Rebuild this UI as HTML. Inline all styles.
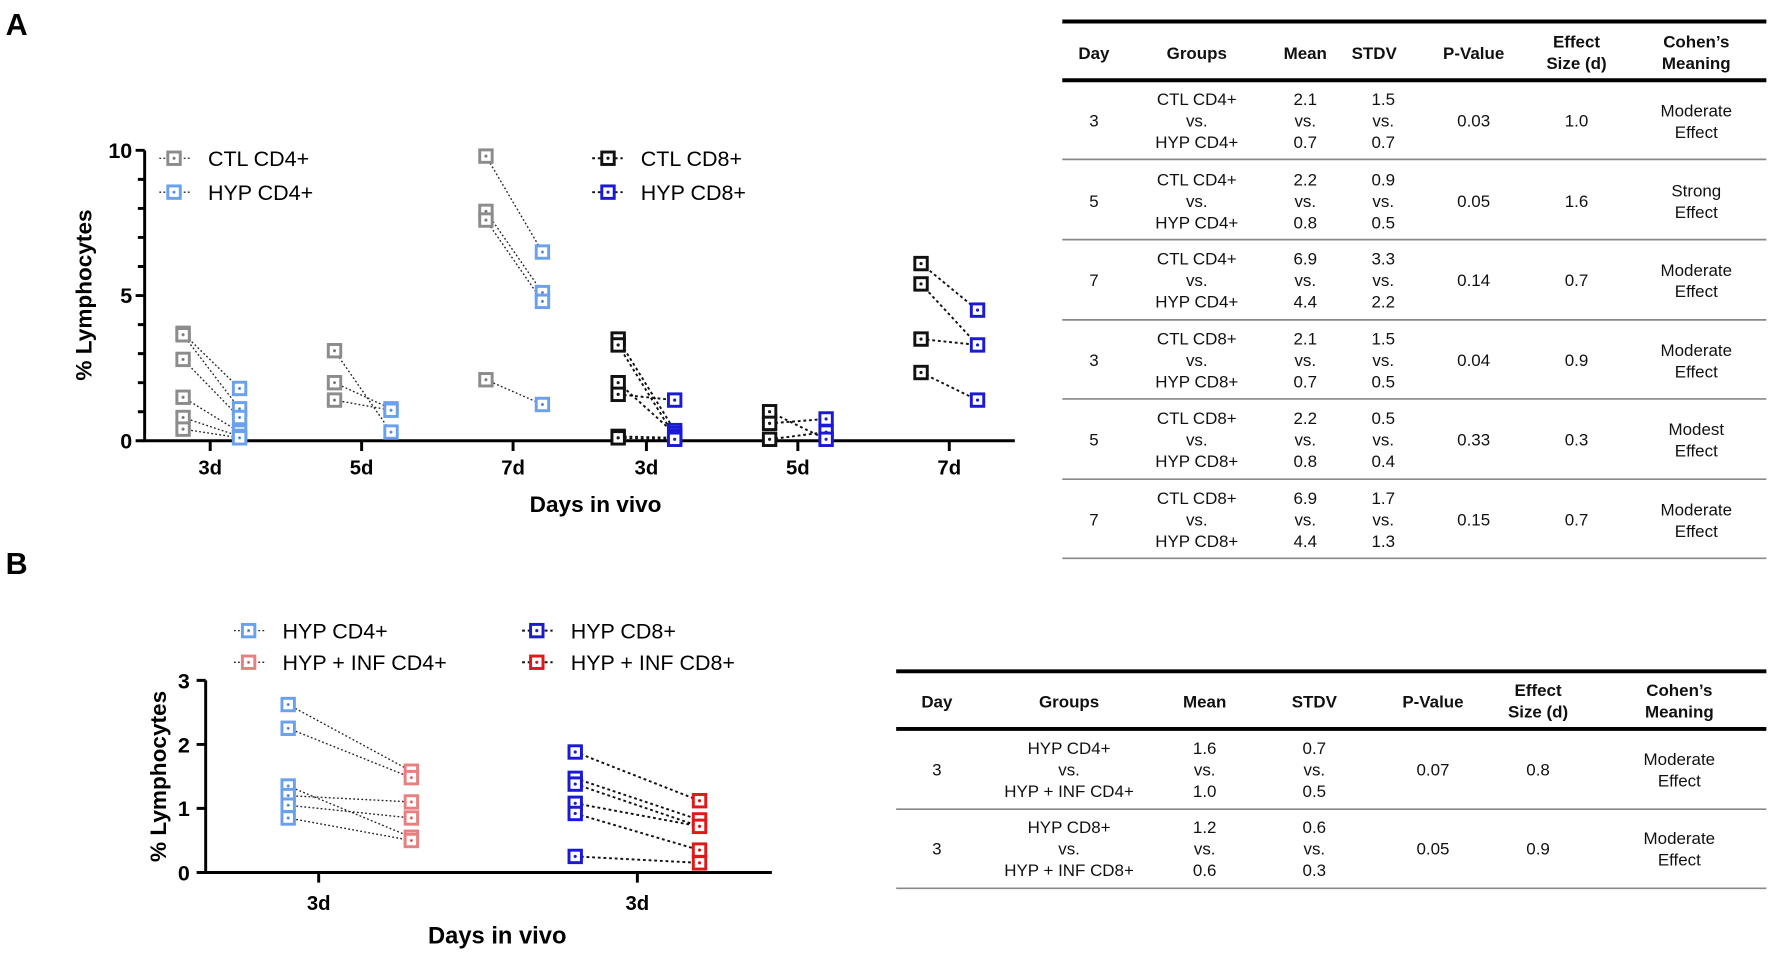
<!DOCTYPE html>
<html><head><meta charset="utf-8"><style>
html,body{margin:0;padding:0;background:#fff}
svg{display:block}
text{font-family:"Liberation Sans",Arial,sans-serif}
.b{font-weight:bold}
.t{font-size:15px;fill:#111}
.h{font-size:15px;font-weight:bold;fill:#111}
.ln{stroke:#222;stroke-width:1.2;stroke-dasharray:1.6 2;fill:none}
.ln8{stroke:#111;stroke-width:1.7;stroke-dasharray:2.5 2.5;fill:none}
</style></head><body>
<svg width="1772" height="955" viewBox="0 0 1568 845" xmlns="http://www.w3.org/2000/svg">
<defs>
<g id="sq"><rect x="-5.5" y="-5.5" width="11" height="11" fill="#fff" stroke-width="2.6"/><circle r="0.9" fill="#333"/></g>
</defs>
<rect width="1568" height="845" fill="#fff"/>
<text x="5" y="31" class="b" font-size="27">A</text>
<text x="5" y="508" class="b" font-size="27">B</text>

<!-- Plot A axes -->
<g stroke="#000" stroke-width="2.6" fill="none">
<path d="M128 133 V390 H898"/>
<path d="M120 133H128M122 158.7H128M122 184.4H128M122 210.1H128M122 235.8H128M120 261.5H128M122 287.2H128M122 312.9H128M122 338.6H128M122 364.3H128M120 390H128"/>
<path d="M186 390v9M320 390v9M454 390v9M572 390v9M706 390v9M840 390v9"/>
</g>
<g class="b" font-size="19" text-anchor="end"><text x="117" y="140">10</text><text x="117" y="268">5</text><text x="117" y="397">0</text></g>
<g class="b" font-size="18" text-anchor="middle"><text x="186" y="420">3d</text><text x="320" y="420">5d</text><text x="454" y="420">7d</text><text x="572" y="420">3d</text><text x="706" y="420">5d</text><text x="840" y="420">7d</text></g>
<text x="527" y="453" class="b" font-size="20" text-anchor="middle">Days in vivo</text>
<text transform="translate(81 261) rotate(-90)" class="b" font-size="20" text-anchor="middle">% Lymphocytes</text>

<!-- lines A -->
<g class="ln">
<path d="M162 294.9L212 343.7M162 296.2L212 361.7M162 318L212 369.4M162 351.5L212 382.3M162 369.4L212 386.1M162 379.7L212 387.4"/>
<path d="M296 310.3L346 382.3M296 338.6L346 361.7M296 354L346 363"/>
<path d="M430 138.1L480 223M430 187L480 258.9M430 194.7L480 266.6M430 336L480 357.9"/>
</g>
<g class="ln8">
<path d="M547 300L597 381M547 305.2L597 386.1M547 338.6L597 383.6M547 348.9L597 354M547 386.1L597 387.4M547 387.4L597 388.7"/>
<path d="M681 364.3L731 388.7M681 374.6L731 370.7M681 388.7L731 382.3"/>
<path d="M815 233.2L865 274.4M815 251.2L865 305.2M815 300L865 305.2M815 329.6L865 354"/>
</g>
<!-- markers A -->
<g stroke="#8c8c8c">
<use href="#sq" x="162" y="294.9"/><use href="#sq" x="162" y="296.2"/><use href="#sq" x="162" y="318"/><use href="#sq" x="162" y="351.5"/><use href="#sq" x="162" y="369.4"/><use href="#sq" x="162" y="379.7"/>
<use href="#sq" x="296" y="310.3"/><use href="#sq" x="296" y="338.6"/><use href="#sq" x="296" y="354"/>
<use href="#sq" x="430" y="138.1"/><use href="#sq" x="430" y="187"/><use href="#sq" x="430" y="194.7"/><use href="#sq" x="430" y="336"/>
</g>
<g stroke="#6aa0f0">
<use href="#sq" x="212" y="343.7"/><use href="#sq" x="212" y="361.7"/><use href="#sq" x="212" y="369.4"/><use href="#sq" x="212" y="382.3"/><use href="#sq" x="212" y="386.1"/><use href="#sq" x="212" y="387.4"/>
<use href="#sq" x="346" y="382.3"/><use href="#sq" x="346" y="361.7"/><use href="#sq" x="346" y="363"/>
<use href="#sq" x="480" y="223"/><use href="#sq" x="480" y="258.9"/><use href="#sq" x="480" y="266.6"/><use href="#sq" x="480" y="357.9"/>
</g>
<g stroke="#111">
<use href="#sq" x="547" y="300"/><use href="#sq" x="547" y="305.2"/><use href="#sq" x="547" y="338.6"/><use href="#sq" x="547" y="348.9"/><use href="#sq" x="547" y="386.1"/><use href="#sq" x="547" y="387.4"/>
<use href="#sq" x="681" y="364.3"/><use href="#sq" x="681" y="374.6"/><use href="#sq" x="681" y="388.7"/>
<use href="#sq" x="815" y="233.2"/><use href="#sq" x="815" y="251.2"/><use href="#sq" x="815" y="300"/><use href="#sq" x="815" y="329.6"/>
</g>
<g stroke="#1a1ad6">
<use href="#sq" x="597" y="354"/><use href="#sq" x="597" y="381"/><use href="#sq" x="597" y="383.6"/><use href="#sq" x="597" y="386.1"/><use href="#sq" x="597" y="387.4"/><use href="#sq" x="597" y="388.7"/>
<use href="#sq" x="731" y="370.7"/><use href="#sq" x="731" y="382.3"/><use href="#sq" x="731" y="388.7"/>
<use href="#sq" x="865" y="274.4"/><use href="#sq" x="865" y="305.2"/><use href="#sq" x="865" y="354"/>
</g>
<!-- legend A -->
<g class="ln"><path d="M141 140H168M141 170H168"/></g>
<g class="ln8"><path d="M524 140H551M524 170H551"/></g>
<use href="#sq" x="154" y="140" stroke="#8c8c8c"/><use href="#sq" x="154" y="170" stroke="#6aa0f0"/>
<use href="#sq" x="538" y="140" stroke="#111"/><use href="#sq" x="538" y="170" stroke="#1a1ad6"/>
<g font-size="19"><text x="184" y="147">CTL CD4+</text><text x="184" y="177">HYP CD4+</text><text x="567" y="147">CTL CD8+</text><text x="567" y="177">HYP CD8+</text></g>

<!-- Table A -->
<g stroke="#000"><path d="M940 19H1563" stroke-width="3.5"/><path d="M940 71H1563" stroke-width="3.5"/></g>
<g stroke="#888" stroke-width="1.5"><path d="M940 141H1563M940 212H1563M940 283H1563M940 353H1563M940 424H1563M940 494H1563"/></g>
<g class="h" text-anchor="middle">
<text x="968" y="52">Day</text><text x="1059" y="52">Groups</text><text x="1155" y="52">Mean</text><text x="1216" y="52">STDV</text><text x="1304" y="52">P-Value</text>
<text x="1395" y="42">Effect</text><text x="1395" y="61">Size (d)</text><text x="1501" y="42">Cohen’s</text><text x="1501" y="61">Meaning</text>
</g>
<g class="t" text-anchor="middle">
<text x="968" y="112">3</text><text x="1059" y="93">CTL CD4+</text><text x="1059" y="112">vs.</text><text x="1059" y="131">HYP CD4+</text><text x="1155" y="93">2.1</text><text x="1155" y="112">vs.</text><text x="1155" y="131">0.7</text><text x="1224" y="93">1.5</text><text x="1224" y="112">vs.</text><text x="1224" y="131">0.7</text><text x="1304" y="112">0.03</text><text x="1395" y="112">1.0</text><text x="1501" y="103">Moderate</text><text x="1501" y="122">Effect</text>
<text x="968" y="183">5</text><text x="1059" y="164">CTL CD4+</text><text x="1059" y="183">vs.</text><text x="1059" y="202">HYP CD4+</text><text x="1155" y="164">2.2</text><text x="1155" y="183">vs.</text><text x="1155" y="202">0.8</text><text x="1224" y="164">0.9</text><text x="1224" y="183">vs.</text><text x="1224" y="202">0.5</text><text x="1304" y="183">0.05</text><text x="1395" y="183">1.6</text><text x="1501" y="174">Strong</text><text x="1501" y="193">Effect</text>
<text x="968" y="253">7</text><text x="1059" y="234">CTL CD4+</text><text x="1059" y="253">vs.</text><text x="1059" y="272">HYP CD4+</text><text x="1155" y="234">6.9</text><text x="1155" y="253">vs.</text><text x="1155" y="272">4.4</text><text x="1224" y="234">3.3</text><text x="1224" y="253">vs.</text><text x="1224" y="272">2.2</text><text x="1304" y="253">0.14</text><text x="1395" y="253">0.7</text><text x="1501" y="244">Moderate</text><text x="1501" y="263">Effect</text>
<text x="968" y="324">3</text><text x="1059" y="305">CTL CD8+</text><text x="1059" y="324">vs.</text><text x="1059" y="343">HYP CD8+</text><text x="1155" y="305">2.1</text><text x="1155" y="324">vs.</text><text x="1155" y="343">0.7</text><text x="1224" y="305">1.5</text><text x="1224" y="324">vs.</text><text x="1224" y="343">0.5</text><text x="1304" y="324">0.04</text><text x="1395" y="324">0.9</text><text x="1501" y="315">Moderate</text><text x="1501" y="334">Effect</text>
<text x="968" y="394">5</text><text x="1059" y="375">CTL CD8+</text><text x="1059" y="394">vs.</text><text x="1059" y="413">HYP CD8+</text><text x="1155" y="375">2.2</text><text x="1155" y="394">vs.</text><text x="1155" y="413">0.8</text><text x="1224" y="375">0.5</text><text x="1224" y="394">vs.</text><text x="1224" y="413">0.4</text><text x="1304" y="394">0.33</text><text x="1395" y="394">0.3</text><text x="1501" y="385">Modest</text><text x="1501" y="404">Effect</text>
<text x="968" y="465">7</text><text x="1059" y="446">CTL CD8+</text><text x="1059" y="465">vs.</text><text x="1059" y="484">HYP CD8+</text><text x="1155" y="446">6.9</text><text x="1155" y="465">vs.</text><text x="1155" y="484">4.4</text><text x="1224" y="446">1.7</text><text x="1224" y="465">vs.</text><text x="1224" y="484">1.3</text><text x="1304" y="465">0.15</text><text x="1395" y="465">0.7</text><text x="1501" y="456">Moderate</text><text x="1501" y="475">Effect</text>
</g>

<!-- Plot B -->
<g stroke="#000" stroke-width="2.6" fill="none">
<path d="M182 602 V772 H683"/>
<path d="M174 602H182M174 658.7H182M174 715.3H182M174 772H182"/>
<path d="M282 772v9M564 772v9"/>
</g>
<g class="b" font-size="19" text-anchor="end"><text x="168" y="609">3</text><text x="168" y="666">2</text><text x="168" y="722">1</text><text x="168" y="779">0</text></g>
<g class="b" font-size="18" text-anchor="middle"><text x="282" y="805">3d</text><text x="564" y="805">3d</text></g>
<text x="440" y="835" class="b" font-size="21" text-anchor="middle">Days in vivo</text>
<text transform="translate(147 687) rotate(-90)" class="b" font-size="20" text-anchor="middle">% Lymphocytes</text>
<g class="ln">
<path d="M255 623.4L364 682.4M255 644.4L364 688.1M255 695.5L364 740.8M255 704L364 709.6M255 712.5L364 723.8M255 723.8L364 743.7"/>
</g>
<g class="ln8">
<path d="M509 665.4L619 708.5M509 688.7L619 725.5M509 693.8L619 731.2M509 710.8L619 731.2M509 719.8L619 752.2M509 757.8L619 763.5"/>
</g>
<g stroke="#6aa0f0"><use href="#sq" x="255" y="623.4"/><use href="#sq" x="255" y="644.4"/><use href="#sq" x="255" y="695.5"/><use href="#sq" x="255" y="704"/><use href="#sq" x="255" y="712.5"/><use href="#sq" x="255" y="723.8"/></g>
<g stroke="#e88080"><use href="#sq" x="364" y="682.4"/><use href="#sq" x="364" y="688.1"/><use href="#sq" x="364" y="740.8"/><use href="#sq" x="364" y="709.6"/><use href="#sq" x="364" y="723.8"/><use href="#sq" x="364" y="743.7"/></g>
<g stroke="#1a1ad6"><use href="#sq" x="509" y="665.4"/><use href="#sq" x="509" y="688.7"/><use href="#sq" x="509" y="693.8"/><use href="#sq" x="509" y="710.8"/><use href="#sq" x="509" y="719.8"/><use href="#sq" x="509" y="757.8"/></g>
<g stroke="#e01818"><use href="#sq" x="619" y="708.5"/><use href="#sq" x="619" y="725.5"/><use href="#sq" x="619" y="731.2"/><use href="#sq" x="619" y="752.2"/><use href="#sq" x="619" y="763.5"/></g>
<g class="ln"><path d="M207 558H234M207 586H234"/></g>
<g class="ln8"><path d="M462 558H489M462 586H489"/></g>
<use href="#sq" x="220" y="558" stroke="#6aa0f0"/><use href="#sq" x="220" y="586" stroke="#e88080"/>
<use href="#sq" x="475" y="558" stroke="#1a1ad6"/><use href="#sq" x="475" y="586" stroke="#e01818"/>
<g font-size="19"><text x="250" y="565">HYP CD4+</text><text x="250" y="593">HYP + INF CD4+</text><text x="505" y="565">HYP CD8+</text><text x="505" y="593">HYP + INF CD8+</text></g>

<!-- Table B -->
<g stroke="#000"><path d="M793 594H1563" stroke-width="3.5"/><path d="M793 645H1563" stroke-width="3.5"/></g>
<g stroke="#888" stroke-width="1.5"><path d="M793 716H1563M793 786H1563"/></g>
<g class="h" text-anchor="middle">
<text x="829" y="626">Day</text><text x="946" y="626">Groups</text><text x="1066" y="626">Mean</text><text x="1163" y="626">STDV</text><text x="1268" y="626">P-Value</text>
<text x="1361" y="616">Effect</text><text x="1361" y="635">Size (d)</text><text x="1486" y="616">Cohen’s</text><text x="1486" y="635">Meaning</text>
</g>
<g class="t" text-anchor="middle">
<text x="829" y="686">3</text><text x="946" y="667">HYP CD4+</text><text x="946" y="686">vs.</text><text x="946" y="705">HYP + INF CD4+</text><text x="1066" y="667">1.6</text><text x="1066" y="686">vs.</text><text x="1066" y="705">1.0</text><text x="1163" y="667">0.7</text><text x="1163" y="686">vs.</text><text x="1163" y="705">0.5</text><text x="1268" y="686">0.07</text><text x="1361" y="686">0.8</text><text x="1486" y="677">Moderate</text><text x="1486" y="696">Effect</text>
<text x="829" y="756">3</text><text x="946" y="737">HYP CD8+</text><text x="946" y="756">vs.</text><text x="946" y="775">HYP + INF CD8+</text><text x="1066" y="737">1.2</text><text x="1066" y="756">vs.</text><text x="1066" y="775">0.6</text><text x="1163" y="737">0.6</text><text x="1163" y="756">vs.</text><text x="1163" y="775">0.3</text><text x="1268" y="756">0.05</text><text x="1361" y="756">0.9</text><text x="1486" y="747">Moderate</text><text x="1486" y="766">Effect</text>
</g>
</svg>
</body></html>
